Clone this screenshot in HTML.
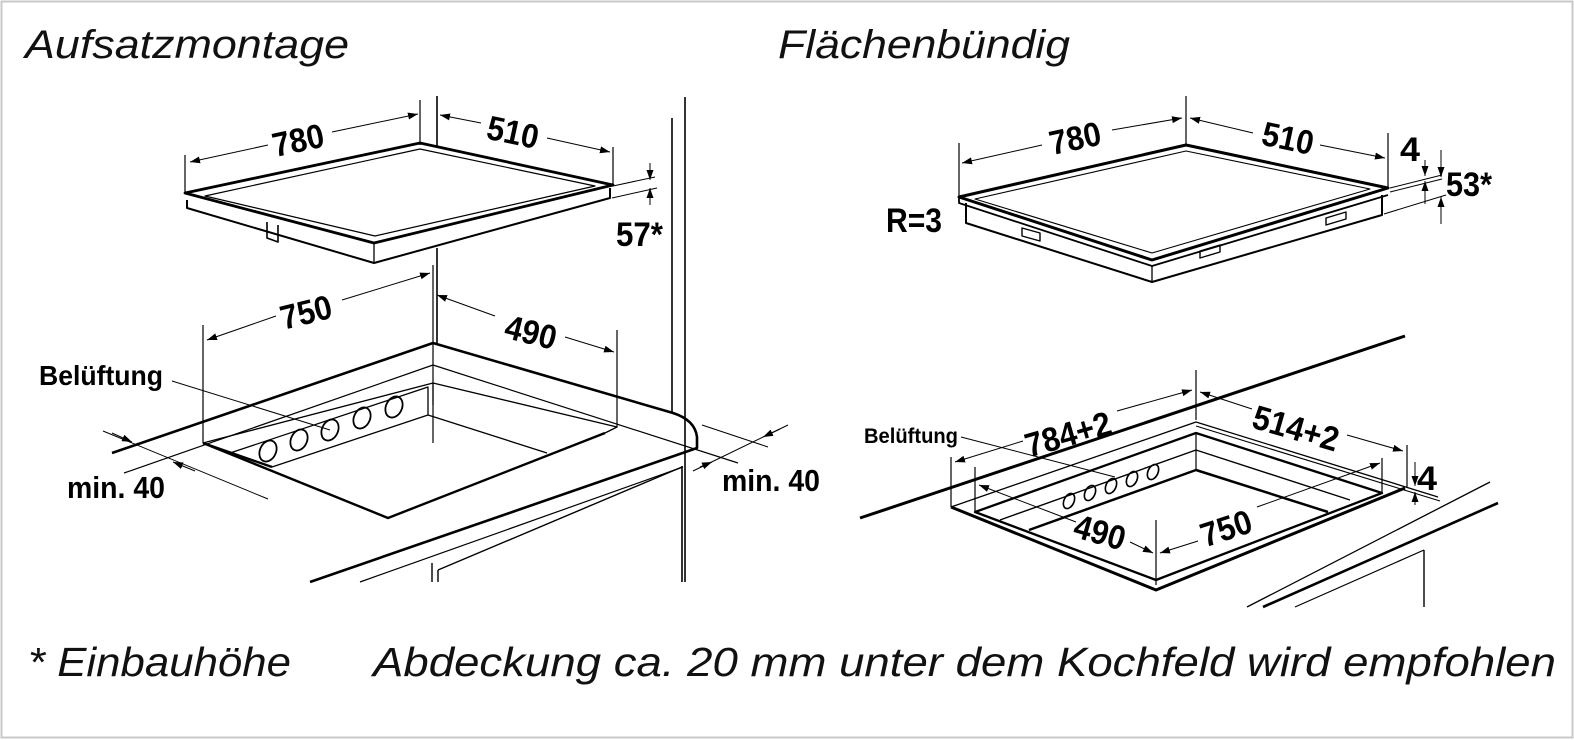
<!DOCTYPE html>
<html><head><meta charset="utf-8"><style>
html,body{margin:0;padding:0;background:#fff;}
svg{display:block;}
.t{font-family:"Liberation Sans Narrow","Liberation Sans",sans-serif;font-weight:bold;fill:#000;}
.h{font-family:"Liberation Sans",sans-serif;font-style:italic;fill:#111;}
</style></head><body>
<svg width="1574" height="740" viewBox="0 0 1574 740" xmlns="http://www.w3.org/2000/svg">
<defs>
<marker id="a" viewBox="0 0 10 10" refX="10" refY="5" markerWidth="10" markerHeight="10" markerUnits="userSpaceOnUse" orient="auto-start-reverse"><path d="M0,1.5 L10,5 L0,8.5z" fill="#000"/></marker>
</defs>
<rect x="1.5" y="1.5" width="1571" height="736" fill="none" stroke="#c8c8c8" stroke-width="2"/>
<g fill="none" stroke="#000" stroke-linejoin="round">

<line x1="685" y1="97" x2="685" y2="582" stroke-width="1.6"/>
<line x1="672" y1="118" x2="672" y2="413" stroke-width="1.6"/>
<line x1="682" y1="466" x2="682" y2="582" stroke-width="1.6"/>
<path d="M185,193 L420,143 L613,185 L374,243 Z" stroke-width="2.8"/>
<path d="M205,196 L420,149 L595,186 L375,236 Z" stroke-width="1.2"/>
<path d="M187,200 L187,208 L374,263 L610,198 L610,188" stroke-width="2"/>
<line x1="374" y1="243" x2="374" y2="263" stroke-width="1.3"/>
<path d="M267,222 L267,238 L278,242 L278,225" stroke-width="1.6"/>
<line x1="420" y1="100" x2="420" y2="145" stroke-width="1.2"/>
<line x1="437" y1="96" x2="437" y2="147" stroke-width="1.6"/>
<line x1="437" y1="248" x2="437" y2="343" stroke-width="1.6"/>
<line x1="433" y1="265" x2="433" y2="443" stroke-width="1.2"/>
<line x1="185" y1="155" x2="185" y2="193" stroke-width="1.2"/>
<line x1="613" y1="147" x2="613" y2="185" stroke-width="1.2"/>
<path d="M190,162 L268,145" stroke-width="1" marker-start="url(#a)"/>
<path d="M332,132 L418,114" stroke-width="1" marker-end="url(#a)"/>
<path d="M440,115 L481,123" stroke-width="1" marker-start="url(#a)"/>
<path d="M547,138 L610,152" stroke-width="1" marker-end="url(#a)"/>
<line x1="613" y1="186" x2="655" y2="177" stroke-width="1"/>
<line x1="612" y1="198" x2="657" y2="188" stroke-width="1"/>
<path d="M650,163 L650,180" stroke-width="1" marker-end="url(#a)"/>
<path d="M650,205 L650,188" stroke-width="1" marker-end="url(#a)"/>
<line x1="203" y1="325" x2="203" y2="443" stroke-width="1.2"/>
<line x1="617" y1="330" x2="617" y2="427" stroke-width="1.2"/>
<path d="M207,340 L276,316" stroke-width="1" marker-start="url(#a)"/>
<path d="M342,300 L430,273" stroke-width="1" marker-end="url(#a)"/>
<path d="M437,295 L495,316" stroke-width="1" marker-start="url(#a)"/>
<path d="M565,337 L614,352" stroke-width="1" marker-end="url(#a)"/>
<path d="M112,453 L433,343 L673,413 Q695,420 697,437 L697,448 L310,582" stroke-width="2.6"/>
<line x1="124" y1="473" x2="433" y2="365" stroke-width="1.2"/>
<line x1="433" y1="365" x2="738" y2="463" stroke-width="1.2"/>
<line x1="683" y1="467" x2="360" y2="582" stroke-width="1.2"/>
<path d="M203,443 L433,383 L617,427 L605,433" stroke-width="1.4"/>
<path d="M203,443 L388,518 L605,433" stroke-width="2.4"/>
<line x1="433" y1="383" x2="433" y2="405" stroke-width="1.2"/>
<path d="M230,453 L428,387 L428,415 L272,467" stroke-width="1.3"/>
<line x1="428" y1="415" x2="547" y2="453" stroke-width="1.3"/>
<line x1="203" y1="443" x2="272" y2="467" stroke-width="2.4"/>
<g stroke-width="1.8">
<ellipse cx="268" cy="451" rx="8" ry="11" transform="rotate(25 268 451)"/>
<ellipse cx="299" cy="440" rx="8" ry="11" transform="rotate(25 299 440)"/>
<ellipse cx="330" cy="430" rx="8" ry="11" transform="rotate(25 330 430)"/>
<ellipse cx="362" cy="418" rx="8" ry="11" transform="rotate(25 362 418)"/>
<ellipse cx="394" cy="407" rx="8" ry="11" transform="rotate(25 394 407)"/>
</g>
<line x1="172" y1="381" x2="330" y2="430" stroke-width="1"/>
<line x1="103" y1="431" x2="268" y2="499" stroke-width="1"/>
<path d="M112,433 L132,442" stroke-width="1" marker-end="url(#a)"/>
<path d="M195,471 L173,462" stroke-width="1" marker-end="url(#a)"/>
<line x1="702" y1="425" x2="768" y2="447" stroke-width="1"/>
<line x1="693" y1="471" x2="788" y2="425" stroke-width="1"/>
<path d="M700,467 L712,462" stroke-width="1" marker-end="url(#a)"/>
<path d="M780,429 L763,437" stroke-width="1" marker-end="url(#a)"/>
<line x1="432" y1="563" x2="432" y2="582" stroke-width="1.4"/>
<line x1="438" y1="570" x2="682" y2="467" stroke-width="1.4"/>
<line x1="438" y1="570" x2="438" y2="582" stroke-width="1.4"/>

<path d="M959,197 L1186,145 L1388,188 L1152,260 Z" stroke-width="3"/>
<path d="M975,199 L1186,151 L1370,189 L1152,253 Z" stroke-width="1.1"/>
<path d="M959,197 L959,203 L1152,266 L1388,195" stroke-width="1.8"/>
<path d="M966,203 L966,223 L1152,282 L1382,215 L1382,195" stroke-width="2"/>
<line x1="1152" y1="266" x2="1152" y2="282" stroke-width="1.3"/>
<path d="M1022,228 L1040,233 L1040,241 L1022,236 Z" stroke-width="1.4"/>
<path d="M1200,251 L1220,245 L1220,252 L1200,258 Z" stroke-width="1.4"/>
<path d="M1326,218 L1346,212 L1346,219 L1326,225 Z" stroke-width="1.4"/>
<line x1="1186" y1="96" x2="1186" y2="145" stroke-width="1.2"/>
<line x1="959" y1="143" x2="959" y2="197" stroke-width="1.2"/>
<line x1="1388" y1="133" x2="1388" y2="188" stroke-width="1.2"/>
<path d="M962,163 L1042,145" stroke-width="1" marker-start="url(#a)"/>
<path d="M1112,130 L1182,118" stroke-width="1" marker-end="url(#a)"/>
<path d="M1190,118 L1253,133" stroke-width="1" marker-start="url(#a)"/>
<path d="M1320,145 L1385,158" stroke-width="1" marker-end="url(#a)"/>
<line x1="1390" y1="188" x2="1442" y2="175" stroke-width="1"/>
<line x1="1390" y1="192" x2="1442" y2="179" stroke-width="1"/>
<line x1="1384" y1="214" x2="1446" y2="195" stroke-width="1"/>
<path d="M1425,160 L1425,176" stroke-width="1" marker-end="url(#a)"/>
<path d="M1425,204 L1425,181" stroke-width="1" marker-end="url(#a)"/>
<path d="M1441,150 L1441,177" stroke-width="1" marker-end="url(#a)"/>
<path d="M1441,224 L1441,197" stroke-width="1" marker-end="url(#a)"/>

<line x1="860" y1="518" x2="1405" y2="336" stroke-width="3"/>
<line x1="1490" y1="482" x2="1247" y2="607" stroke-width="1.3"/>
<line x1="1498" y1="503" x2="1263" y2="607" stroke-width="2.6"/>
<line x1="1424" y1="550" x2="1424" y2="607" stroke-width="1.4"/>
<line x1="1424" y1="550" x2="1295" y2="607" stroke-width="1.2"/>
<path d="M951,507 L1196,422 L1438,497" stroke-width="1.3"/>
<path d="M951,507 L1156,590 L1405,488" stroke-width="3"/>
<path d="M1196,426 L1440,501" stroke-width="1.1"/>
<path d="M975,512 L1196,433 L1382,493 L1156,580 Z" stroke-width="2.3"/>
<path d="M1000,520 L1196,450 L1350,500" stroke-width="1.4"/>
<path d="M1029,530 L1196,470 L1328,512" stroke-width="2.5"/>
<line x1="1196" y1="433" x2="1196" y2="470" stroke-width="1.2"/>
<g stroke-width="1.6">
<ellipse cx="1069" cy="501" rx="5" ry="8" transform="rotate(25 1069 501)"/>
<ellipse cx="1090" cy="493" rx="5" ry="8" transform="rotate(25 1090 493)"/>
<ellipse cx="1111" cy="486" rx="5" ry="8" transform="rotate(25 1111 486)"/>
<ellipse cx="1132" cy="479" rx="5" ry="8" transform="rotate(25 1132 479)"/>
<ellipse cx="1153" cy="472" rx="5" ry="8" transform="rotate(25 1153 472)"/>
</g>
<line x1="961" y1="437" x2="1115" y2="477" stroke-width="1"/>
<line x1="1196" y1="370" x2="1196" y2="420" stroke-width="1.2"/>
<line x1="951" y1="457" x2="951" y2="507" stroke-width="1.2"/>
<line x1="1407" y1="445" x2="1407" y2="488" stroke-width="1.2"/>
<path d="M955,462 L1023,441" stroke-width="1" marker-start="url(#a)"/>
<path d="M1117,411 L1192,390" stroke-width="1" marker-end="url(#a)"/>
<path d="M1200,392 L1252,409" stroke-width="1" marker-start="url(#a)"/>
<path d="M1347,435 L1403,451" stroke-width="1" marker-end="url(#a)"/>
<line x1="975" y1="467" x2="975" y2="512" stroke-width="1.2"/>
<line x1="1156" y1="520" x2="1156" y2="585" stroke-width="1.2"/>
<line x1="1382" y1="458" x2="1382" y2="493" stroke-width="1.2"/>
<path d="M979,485 L1076,522" stroke-width="1" marker-start="url(#a)"/>
<path d="M1130,542 L1153,553" stroke-width="1" marker-end="url(#a)"/>
<path d="M1160,553 L1198,541" stroke-width="1" marker-start="url(#a)"/>
<path d="M1257,507 L1380,463" stroke-width="1" marker-end="url(#a)"/>
<path d="M1415,462 L1415,486" stroke-width="1" marker-end="url(#a)"/>
<path d="M1415,505 L1415,492" stroke-width="1" marker-end="url(#a)"/>
</g>

<text class="h" x="25" y="58" font-size="40" textLength="324" lengthAdjust="spacingAndGlyphs">Aufsatzmontage</text>
<text class="h" x="778" y="58" font-size="40" textLength="292" lengthAdjust="spacingAndGlyphs">Flächenbündig</text>
<text class="h" x="28" y="676" font-size="41" textLength="263" lengthAdjust="spacingAndGlyphs">* Einbauhöhe</text>
<text class="h" x="373" y="676" font-size="41" textLength="1183" lengthAdjust="spacingAndGlyphs">Abdeckung ca. 20 mm unter dem Kochfeld wird empfohlen</text>

<g class="t" font-size="34">
<text x="272" y="152" transform="rotate(-12 298 140)" textLength="52" lengthAdjust="spacingAndGlyphs">780</text>
<text x="487" y="144" transform="rotate(12 513 132)" textLength="52" lengthAdjust="spacingAndGlyphs">510</text>
<text x="616" y="246" textLength="47" lengthAdjust="spacingAndGlyphs">57*</text>
<text x="280" y="324" transform="rotate(-14 306 312)" textLength="52" lengthAdjust="spacingAndGlyphs">750</text>
<text x="505" y="344" transform="rotate(14 531 332)" textLength="52" lengthAdjust="spacingAndGlyphs">490</text>
<text x="67" y="498" textLength="98" lengthAdjust="spacingAndGlyphs" font-size="31">min. 40</text>
<text x="722" y="491" textLength="98" lengthAdjust="spacingAndGlyphs" font-size="31">min. 40</text>
<text x="1049" y="150" transform="rotate(-12 1075 138)" textLength="52" lengthAdjust="spacingAndGlyphs">780</text>
<text x="1262" y="150" transform="rotate(12 1288 138)" textLength="52" lengthAdjust="spacingAndGlyphs">510</text>
<text x="1400" y="161" textLength="20" lengthAdjust="spacingAndGlyphs">4</text>
<text x="1446" y="196" textLength="46" lengthAdjust="spacingAndGlyphs">53*</text>
<text x="886" y="232" textLength="56" lengthAdjust="spacingAndGlyphs">R=3</text>
<text x="1024" y="446" transform="rotate(-16 1068 434)" textLength="88" lengthAdjust="spacingAndGlyphs">784+2</text>
<text x="1252" y="440" transform="rotate(16 1296 428)" textLength="88" lengthAdjust="spacingAndGlyphs">514+2</text>
<text x="1417" y="490" textLength="20" lengthAdjust="spacingAndGlyphs">4</text>
<text x="1074" y="544" transform="rotate(16 1100 532)" textLength="52" lengthAdjust="spacingAndGlyphs">490</text>
<text x="1200" y="540" transform="rotate(-18 1226 528)" textLength="52" lengthAdjust="spacingAndGlyphs">750</text>
</g>
<text class="t" x="39" y="385" font-size="28" textLength="124" lengthAdjust="spacingAndGlyphs">Belüftung</text>
<text class="t" x="864" y="443" font-size="21" textLength="94" lengthAdjust="spacingAndGlyphs">Belüftung</text>
</svg>
</body></html>
